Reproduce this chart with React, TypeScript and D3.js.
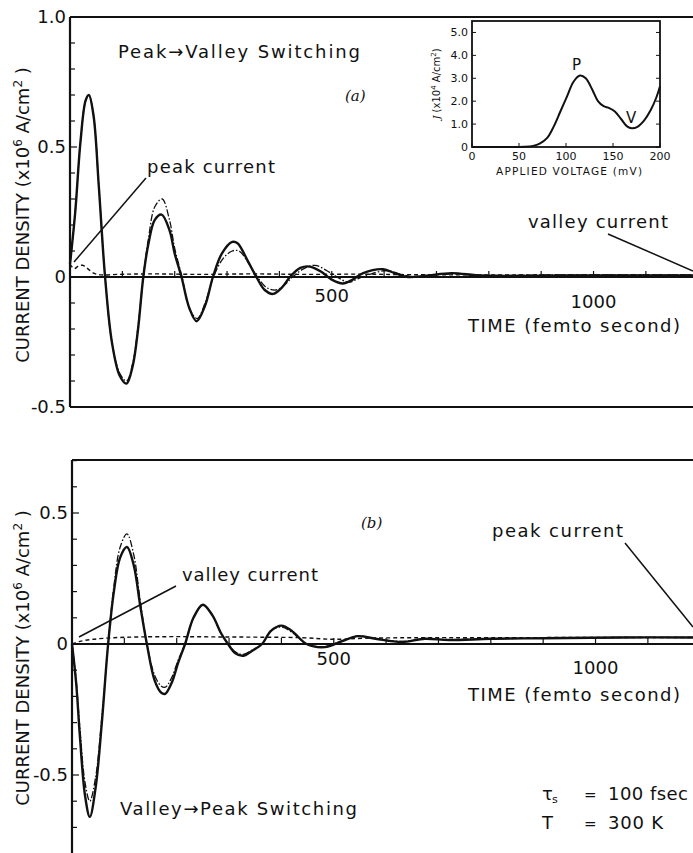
import React, { useEffect, useRef } from "react";
import * as d3 from "d3";

// panel (a): peak -> valley switching. time in fs, J in 1e6 A/cm2
const tSolidA = [0, 10, 20, 30, 36, 45, 55, 67, 80, 95, 108, 120, 130, 140, 150, 162, 175, 190, 200, 213, 228, 242, 258, 273, 290, 310, 320, 340, 356, 372, 388, 405, 420, 440, 458, 480, 500, 521, 540, 560, 598, 620, 645, 680, 729, 780, 850, 950, 1050, 1190];
const jSolidA = [0.05, 0.25, 0.52, 0.68, 0.7, 0.62, 0.35, 0.0, -0.25, -0.38, -0.41, -0.34, -0.2, 0.0, 0.13, 0.22, 0.24, 0.18, 0.09, 0.0, -0.12, -0.17, -0.11, 0.0, 0.09, 0.135, 0.13, 0.06, 0.0, -0.05, -0.065, -0.04, 0.0, 0.035, 0.04, 0.02, -0.01, -0.025, -0.01, 0.015, 0.03, 0.015, 0.0, 0.005, 0.015, 0.006, 0.004, 0.006, 0.006, 0.006];

const tDashA = [0, 10, 20, 30, 36, 45, 55, 67, 80, 95, 108, 120, 130, 140, 150, 162, 176, 190, 200, 214, 228, 243, 258, 274, 292, 310, 323, 342, 358, 375, 393, 410, 425, 445, 468, 490, 510, 532, 552, 572, 605, 630, 660, 700, 740, 800, 900, 1190];
const jDashA = [0.05, 0.25, 0.52, 0.68, 0.7, 0.62, 0.35, 0.0, -0.25, -0.37, -0.4, -0.33, -0.19, 0.0, 0.15, 0.27, 0.3, 0.22, 0.11, 0.0, -0.12, -0.16, -0.1, 0.0, 0.07, 0.1, 0.1, 0.05, 0.0, -0.04, -0.05, -0.03, 0.0, 0.03, 0.045, 0.025, 0.0, -0.02, -0.005, 0.01, 0.025, 0.012, 0.0, 0.008, 0.012, 0.006, 0.008, 0.008];

const tFlatA = [0, 8, 16, 24, 32, 45, 60, 90, 150, 250, 350, 450, 550, 650, 800, 1000, 1190];
const jFlatA = [0.05, 0.032, 0.042, 0.045, 0.035, 0.015, 0.008, 0.01, 0.012, 0.01, 0.012, 0.01, 0.011, 0.009, 0.008, 0.008, 0.008];

// panel (b): valley -> peak switching
const tSolidB = [0, 8, 15, 25, 34, 45, 57, 69, 80, 92, 105, 118, 130, 143, 158, 170, 178, 190, 203, 216, 232, 250, 268, 285, 298, 312, 327, 345, 363, 380, 400, 420, 448, 483, 515, 546, 580, 630, 674, 720, 800, 900, 1050, 1190];
const jSolidB = [0.0, -0.15, -0.35, -0.58, -0.66, -0.55, -0.3, 0.0, 0.2, 0.33, 0.37, 0.3, 0.15, 0.0, -0.14, -0.185, -0.19, -0.15, -0.07, 0.0, 0.1, 0.15, 0.11, 0.04, 0.0, -0.035, -0.045, -0.025, 0.0, 0.05, 0.07, 0.05, 0.0, -0.012, 0.01, 0.03, 0.02, 0.008, 0.02, 0.015, 0.02, 0.022, 0.025, 0.025];

const tDashB = [0, 8, 15, 25, 34, 45, 57, 69, 80, 92, 105, 118, 130, 143, 158, 170, 178, 190, 203, 216, 232, 250, 268, 285, 298, 312, 327, 345, 363, 380, 400, 420, 448, 483, 515, 546, 580, 630, 674, 720, 800, 900, 1050, 1190];
const jDashB = [0.0, -0.14, -0.32, -0.53, -0.6, -0.51, -0.28, 0.0, 0.22, 0.37, 0.42, 0.34, 0.17, 0.0, -0.12, -0.16, -0.165, -0.13, -0.06, 0.0, 0.1, 0.15, 0.11, 0.04, 0.0, -0.03, -0.04, -0.022, 0.0, 0.05, 0.065, 0.045, 0.0, -0.01, 0.012, 0.03, 0.02, 0.01, 0.02, 0.017, 0.02, 0.022, 0.025, 0.025];

const tFlatB = [0, 15, 40, 80, 130, 200, 280, 360, 440, 500, 560, 650, 800, 1000, 1190];
const jFlatB = [0.0, 0.01, 0.018, 0.024, 0.027, 0.028, 0.027, 0.026, 0.024, 0.018, 0.022, 0.024, 0.024, 0.025, 0.025];

// inset: J-V characteristic (mV, 1e4 A/cm2)
const vInset = [0, 40, 55, 65, 72, 80, 87, 94, 101, 108, 115, 121, 128, 134, 140, 146, 152, 159, 165, 170, 176, 183, 190, 196, 200];
const jInset = [0, 0, 0.01, 0.05, 0.15, 0.4, 0.9, 1.55, 2.2, 2.85, 3.12, 3.0, 2.5, 2.0, 1.78, 1.7, 1.55, 1.2, 0.9, 0.82, 0.88, 1.15, 1.6, 2.15, 2.65];
const insetYTicks = [0, 1, 2, 3, 4, 5];
const insetYLabels = ["0", "1.0", "2.0", "3.0", "4.0", "5.0"];
const insetXTicks = [0, 50, 100, 150, 200];

const timeLabels = [500, 1000];
const yLabelsA = [1.0, 0.5, 0, -0.5];
const yLabelsB = [0.5, 0, -0.5];

const FONT = "DejaVu Sans, sans-serif";

export default function App() {
  const ref = useRef<SVGSVGElement>(null);

  useEffect(() => {
    const svg = d3.select(ref.current);
    svg.selectAll("*").remove();

    const fmt = (v: number) => (v === 0 ? "0" : v.toFixed(1));

    const txt = (g: any, x: number, y: number, s: string, size: number, extra?: any) => {
      const t = g.append("text").attr("x", x).attr("y", y).attr("font-family", FONT)
        .attr("font-size", size).attr("fill", "#111").text(s);
      if (extra) Object.keys(extra).forEach((k) => t.attr(k, extra[k]));
      return t;
    };
    const fit = (w: number) => ({ textLength: w, lengthAdjust: "spacing" });

    const drawPanel = (opts: any) => {
      const { x, y, top, bottom, left, right, yLabels, series, yLabelY, labelDy, timeDy } = opts;
      const g = svg.append("g");

      // frame
      g.append("line").attr("x1", left).attr("x2", right).attr("y1", top).attr("y2", top)
        .attr("stroke", "#111").attr("stroke-width", 2.2);
      g.append("line").attr("x1", left).attr("x2", left).attr("y1", top).attr("y2", bottom)
        .attr("stroke", "#111").attr("stroke-width", 2.2);
      if (opts.bottomLine) {
        g.append("line").attr("x1", left).attr("x2", right).attr("y1", bottom).attr("y2", bottom)
          .attr("stroke", "#111").attr("stroke-width", 2.2);
      }

      // y minor ticks every 0.1
      const yMin = y.invert(bottom), yMax = y.invert(top);
      d3.range(Math.ceil(yMin * 10), Math.floor(yMax * 10) + 1).forEach((k) => {
        const major = k % 5 === 0;
        g.append("line").attr("x1", left).attr("x2", left + (major ? 7 : 5))
          .attr("y1", y(k / 10)).attr("y2", y(k / 10)).attr("stroke", "#111").attr("stroke-width", 1.2);
      });
      yLabels.forEach((v: number) => {
        txt(g, left - 4, y(v) + 6, fmt(v), 18, { "text-anchor": "end" });
      });

      // zero axis with ticks every 100 fs
      g.append("line").attr("x1", left).attr("x2", right).attr("y1", y(0)).attr("y2", y(0))
        .attr("stroke", "#111").attr("stroke-width", 2.2);
      d3.range(100, 1200, 100).forEach((t) => {
        g.append("line").attr("x1", x(t)).attr("x2", x(t)).attr("y1", y(0)).attr("y2", y(0) - 6)
          .attr("stroke", "#111").attr("stroke-width", 1.2);
      });
      timeLabels.forEach((t, i) => {
        txt(g, x(t), y(0) + labelDy[i], String(t), 18, { "text-anchor": "middle" });
      });
      txt(g, 468, y(0) + timeDy, "TIME (femto second)", 18, fit(212));

      // y axis title
      g.append("text").attr("transform", `translate(29,${yLabelY}) rotate(-90)`).attr("text-anchor", "middle")
        .attr("font-family", FONT).attr("font-size", 18).attr("fill", "#111")
        .text("CURRENT DENSITY (x10")
        .call((t: any) => {
          t.append("tspan").attr("dy", -7).attr("font-size", 12).text("6");
          t.append("tspan").attr("dy", 7).text(" A/cm");
          t.append("tspan").attr("dy", -7).attr("font-size", 12).text("2");
          t.append("tspan").attr("dy", 7).text(" )");
        });

      series.forEach((s: any) => {
        const pts = s.t.map((t: number, i: number) => [t, s.j[i]] as [number, number]);
        const line = d3.line<[number, number]>().x((d) => x(d[0])).y((d) => y(d[1]))
          .curve(d3.curveCatmullRom.alpha(0.5));
        g.append("path").datum(pts).attr("fill", "none").attr("stroke", "#111")
          .attr("stroke-width", s.w).attr("stroke-dasharray", s.dash || null)
          .attr("stroke-linejoin", "round").attr("d", line);
      });
      return g;
    };

    // ---- panel (a)
    const xA = d3.scaleLinear().domain([0, 1190]).range([70, 693]);
    const yA = d3.scaleLinear().domain([-0.5, 1.0]).range([407, 17]);
    const gA = drawPanel({
      x: xA, y: yA, top: 17, bottom: 407, left: 70, right: 693, yLabels: yLabelsA, bottomLine: true,
      yLabelY: 215, labelDy: [25, 31], timeDy: 55,
      series: [
        { t: tFlatA, j: jFlatA, w: 1.4, dash: "4,3" },
        { t: tDashA, j: jDashA, w: 1.3, dash: "7,2,1.5,2" },
        { t: tSolidA, j: jSolidA, w: 2.4 },
      ],
    });
    txt(gA, 118, 58, "Peak\u2192Valley Switching", 18, fit(242));
    txt(gA, 345, 101, "(a)", 15, { "font-style": "italic", "font-family": "DejaVu Serif, serif" });
    txt(gA, 147, 173, "peak current", 18, fit(128));
    gA.append("line").attr("x1", 146).attr("y1", 178).attr("x2", 74).attr("y2", 262).attr("stroke", "#111").attr("stroke-width", 1.5);
    txt(gA, 528, 228, "valley current", 18, fit(140));
    gA.append("line").attr("x1", 608).attr("y1", 234).attr("x2", 693).attr("y2", 271).attr("stroke", "#111").attr("stroke-width", 1.5);

    // inset
    const xi = d3.scaleLinear().domain([0, 200]).range([472, 660]);
    const yi = d3.scaleLinear().domain([0, 5.5]).range([147, 21]);
    const gi = svg.append("g");
    gi.append("rect").attr("x", 472).attr("y", 21).attr("width", 188).attr("height", 126)
      .attr("fill", "white").attr("stroke", "#111").attr("stroke-width", 1.8);
    insetYTicks.forEach((v, i) => {
      gi.append("line").attr("x1", 472).attr("x2", 476).attr("y1", yi(v)).attr("y2", yi(v)).attr("stroke", "#111");
      gi.append("line").attr("x1", 660).attr("x2", 656).attr("y1", yi(v)).attr("y2", yi(v)).attr("stroke", "#111");
      txt(gi, 468, yi(v) + 4, insetYLabels[i], 11, { "text-anchor": "end" });
    });
    insetXTicks.forEach((v) => {
      gi.append("line").attr("x1", xi(v)).attr("x2", xi(v)).attr("y1", 147).attr("y2", 143).attr("stroke", "#111");
      txt(gi, xi(v), 160, String(v), 11, { "text-anchor": "middle" });
    });
    txt(gi, 496, 175, "APPLIED VOLTAGE (mV)", 10.5, fit(146));
    const yt = txt(gi, 0, 0, "", 10, { transform: "translate(440,84) rotate(-90)", "text-anchor": "middle" });
    yt.append("tspan").attr("font-style", "italic").attr("font-family", "DejaVu Serif, serif").text("J");
    yt.append("tspan").text(" (x10");
    yt.append("tspan").attr("dy", -4).attr("font-size", 7).text("4");
    yt.append("tspan").attr("dy", 4).text(" A/cm");
    yt.append("tspan").attr("dy", -4).attr("font-size", 7).text("2");
    yt.append("tspan").attr("dy", 4).text(")");
    const ptsI = vInset.map((v, i) => [v, jInset[i]] as [number, number]);
    gi.append("path").datum(ptsI).attr("fill", "none").attr("stroke", "#111").attr("stroke-width", 2)
      .attr("d", d3.line<[number, number]>().x((d) => xi(d[0])).y((d) => yi(d[1])).curve(d3.curveCatmullRom.alpha(0.5)));
    txt(gi, 572, 70, "P", 15);
    txt(gi, 626, 123, "V", 15);

    // ---- panel (b)
    const xB = d3.scaleLinear().domain([0, 1190]).range([72, 695]);
    const yB = d3.scaleLinear().domain([-0.5, 0.5]).range([775, 513]);
    const gB = drawPanel({
      x: xB, y: yB, top: 460, bottom: 853, left: 72, right: 693, yLabels: yLabelsB, bottomLine: false,
      yLabelY: 658, labelDy: [21, 30], timeDy: 57,
      series: [
        { t: tFlatB, j: jFlatB, w: 1.4, dash: "4,3" },
        { t: tDashB, j: jDashB, w: 1.3, dash: "7,2,1.5,2" },
        { t: tSolidB, j: jSolidB, w: 2.4 },
      ],
    });
    txt(gB, 361, 528, "(b)", 15, { "font-style": "italic", "font-family": "DejaVu Serif, serif" });
    txt(gB, 492, 537, "peak current", 18, fit(131));
    gB.append("line").attr("x1", 625).attr("y1", 543).attr("x2", 693).attr("y2", 627).attr("stroke", "#111").attr("stroke-width", 1.5);
    txt(gB, 182, 581, "valley current", 18, fit(136));
    gB.append("line").attr("x1", 176).attr("y1", 586).attr("x2", 79).attr("y2", 637).attr("stroke", "#111").attr("stroke-width", 1.5);
    txt(gB, 120, 815, "Valley\u2192Peak Switching", 18, fit(237));
    txt(gB, 542, 800, "\u03c4", 18);
    txt(gB, 552, 803, "s", 11);
    txt(gB, 584, 800, "=", 15);
    txt(gB, 608, 800, "100 fsec", 18, fit(80));
    txt(gB, 542, 829, "T", 18);
    txt(gB, 584, 829, "=", 15);
    txt(gB, 608, 829, "300 K", 18, fit(55));
  }, []);

  return (
    <svg ref={ref} width={693} height={853}
      style={{ position: "absolute", left: 0, top: 0, background: "white", display: "block" }} />
  );
}
